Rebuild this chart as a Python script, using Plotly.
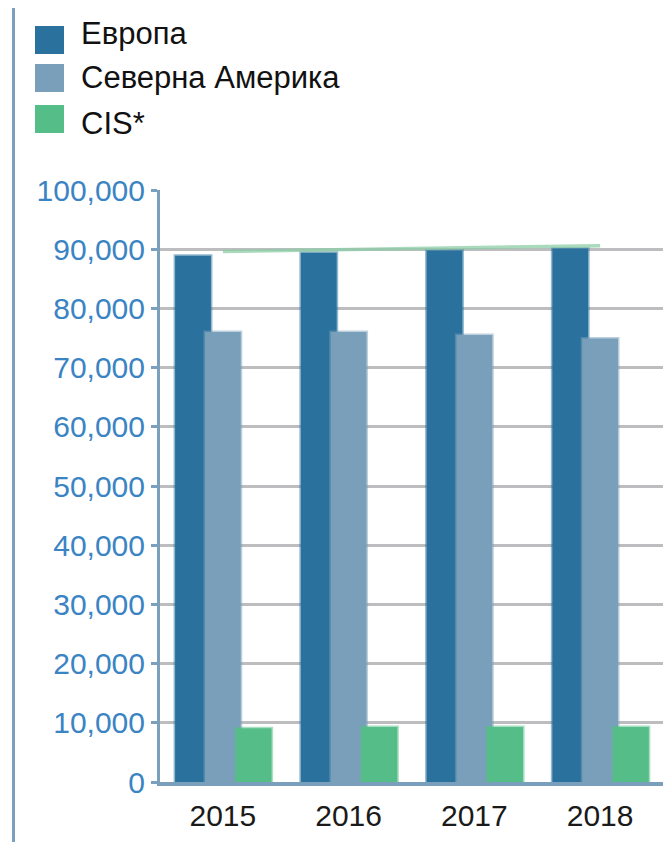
import plotly.graph_objects as go

years = ["2015", "2016", "2017", "2018"]
series_names = ["Европа", "Северна Америка", "CIS*"]
europa = [88900, 89400, 89800, 90100]
north_america = [76000, 76000, 75500, 74900]
cis = [9100, 9300, 9300, 9300]
trend_line = [89600, 89900, 90300, 90600]
y_ticks = list(range(0, 100001, 10000))
y_tick_labels = [f"{v:,}" for v in y_ticks]

colors = ["#2a729d", "#7a9fba", "#55be88"]
line_colors = ["rgba(42,114,157,0.5)", "rgba(122,159,186,0.5)", "rgba(85,190,136,0.5)"]
offsets = [-0.38, -0.1425, 0.1025]
bar_w = 0.285

fig = go.Figure()
for name, vals, col, lc, off in zip(series_names, [europa, north_america, cis], colors, line_colors, offsets):
    fig.add_trace(go.Bar(
        x=years, y=vals, name=name, marker=dict(color=col, line=dict(color=lc, width=3)),
        width=bar_w, offset=off, showlegend=False,
    ))

fig.add_trace(go.Scatter(
    x=years, y=trend_line, mode="lines", showlegend=False,
    line=dict(color="rgba(140,205,165,0.75)", width=3.5), hoverinfo="skip",
))

font_family = "Liberation Sans, Arial, sans-serif"

W, H = 669, 842
plot_top, plot_bottom = 190, 782
plot_left, plot_right = 160, 663
ph = plot_bottom - plot_top
pw = plot_right - plot_left


def py(y):
    return (plot_bottom - y) / ph


def px(x):
    return (x - plot_left) / pw


shapes = [
    dict(type="line", xref="paper", yref="paper", x0=px(13.5), x1=px(13.5), y0=py(842), y1=py(8),
         line=dict(color="#7aa0bd", width=3)),
]
annotations = []
leg_square_top = [26, 64, 105]
leg_text_y = [33, 78, 123]
for name, col, top, ty in zip(series_names, colors, leg_square_top, leg_text_y):
    shapes.append(dict(type="rect", xref="paper", yref="paper",
                       x0=px(35), x1=px(64), y0=py(top + 28), y1=py(top),
                       fillcolor=col, line=dict(width=0)))
    annotations.append(dict(xref="paper", yref="paper", x=px(79), y=py(ty), text=name,
                            showarrow=False, xanchor="left", yanchor="middle",
                            font=dict(family=font_family, size=31, color="#111111")))

fig.update_layout(
    barmode="overlay",
    width=W, height=H,
    margin=dict(l=plot_left, r=W - plot_right, t=plot_top, b=H - plot_bottom),
    plot_bgcolor="white", paper_bgcolor="white",
    shapes=shapes, annotations=annotations,
    showlegend=False,
    xaxis=dict(
        type="category", range=[-0.5, 3.5], showline=True, linecolor="#7a9fba", linewidth=4,
        ticks="", showgrid=False, tickfont=dict(family=font_family, size=30, color="#1a1a1a"),
        ticklabelstandoff=4,
    ),
    yaxis=dict(
        range=[0, 100000], tickvals=y_ticks, ticktext=y_tick_labels,
        showline=True, linecolor="#7aa0bd", linewidth=3,
        ticks="outside", ticklen=6, tickwidth=3, tickcolor="#7aa0bd",
        showgrid=True, gridcolor="#bdbdc0", gridwidth=3, zeroline=False,
        tickfont=dict(family=font_family, size=30, color="#3a84c4"),
    ),
)

fig.write_html(
    "out.html",
    config={"displayModeBar": False},
    post_script="document.body.style.margin='0px';document.body.style.overflow='hidden';",
)
